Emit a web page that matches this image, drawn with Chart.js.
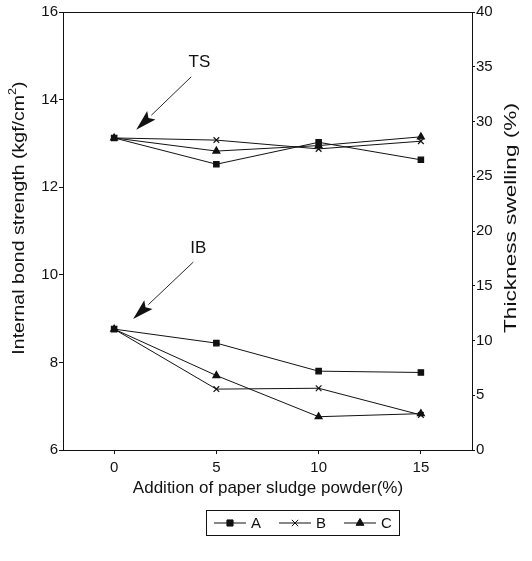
<!DOCTYPE html>
<html>
<head>
<meta charset="utf-8">
<script src="https://cdn.jsdelivr.net/npm/chart.js@4/dist/chart.umd.min.js"></script>
<style>
  body{margin:0;background:#fff;}
  #wrap{width:532px;height:561px;}
</style>
</head>
<body>
<div id="wrap"><canvas id="chart" width="532" height="561"></canvas></div>
<script>
// paper sludge powder addition (%)
const additions = [0, 5, 10, 15];
// internal bond strength, left axis (kgf/cm2)
const ibA = [8.76, 8.44, 7.80, 7.77];
const ibB = [8.76, 7.39, 7.41, 6.80];
const ibC = [8.76, 7.70, 6.76, 6.83];
// thickness swelling, right axis (%)
const tsA = [28.5, 26.1, 28.1, 26.5];
const tsB = [28.5, 28.3, 27.5, 28.2];
const tsC = [28.5, 27.3, 27.8, 28.6];
const seriesNames = ['A', 'B', 'C'];
const xTicks = [0, 5, 10, 15];

const FONT = '"Liberation Sans", Arial, sans-serif';
const INK = '#111';

const styles = [
  {pointStyle:'rect', radius:3.8},
  {pointStyle:'crossRot', radius:4},
  {pointStyle:'triangle', radius:4}
];

function pts(vals){ return additions.map((x,i)=>({x:x, y:vals[i]})); }
function mk(label, vals, axis, s){
  return {
    label: label, data: pts(vals), yAxisID: axis,
    borderColor: INK, backgroundColor: INK, borderWidth: 1,
    pointStyle: styles[s].pointStyle, pointRadius: styles[s].radius,
    pointBorderWidth: 1.2, tension: 0
  };
}

const datasets = [
  mk('A', ibA, 'y', 0), mk('B', ibB, 'y', 1), mk('C', ibC, 'y', 2),
  mk('A', tsA, 'y2', 0), mk('B', tsB, 'y2', 1), mk('C', tsC, 'y2', 2)
];

// annotation arrows, in data units of x / left axis
const notes = [
  {text:'TS', label:[4.17,14.84], tail:[3.77,14.52], tip:[1.08,13.31]},
  {text:'IB', label:[4.12,10.61], tail:[3.87,10.29], tip:[0.93,8.99]}
];

// rotated title, stretched along its length like the scanned original
function vtext(ctx, parts, cx, cy, stretch){
  ctx.save();
  ctx.translate(cx, cy); ctx.rotate(-Math.PI/2); ctx.scale(stretch, 1);
  let total = 0;
  parts.forEach(p => { ctx.font = p.size + 'px ' + FONT; p.w = ctx.measureText(p.t).width; total += p.w; });
  let x = -total/2;
  ctx.textAlign = 'left';
  parts.forEach(p => { ctx.font = p.size + 'px ' + FONT; ctx.fillText(p.t, x, p.dy || 0); x += p.w; });
  ctx.restore();
}

const decor = {
  id: 'decor',
  afterDraw(chart){
    const ctx = chart.ctx, a = chart.chartArea;
    const sx = chart.scales.x, sy = chart.scales.y;
    ctx.save();
    // top frame line
    ctx.strokeStyle = INK; ctx.lineWidth = 1;
    ctx.beginPath(); ctx.moveTo(a.left, a.top + 0.5); ctx.lineTo(a.right, a.top + 0.5); ctx.stroke();

    // axis titles
    ctx.fillStyle = INK;
    ctx.font = '17px ' + FONT;
    ctx.textAlign = 'center'; ctx.textBaseline = 'middle';
    ctx.fillText('Addition of paper sludge powder(%)', 268, 488);

    vtext(ctx, [{t:'Internal bond strength (kgf/cm', size:17}, {t:'2', size:11, dy:-6}, {t:')', size:17}], 19, 218, 1.15);
    vtext(ctx, [{t:'Thickness swelling (%)', size:17}], 511, 218, 1.33);

    // arrows with labels
    notes.forEach(n => {
      const lx = sx.getPixelForValue(n.label[0]), ly = sy.getPixelForValue(n.label[1]);
      const x0 = sx.getPixelForValue(n.tail[0]), y0 = sy.getPixelForValue(n.tail[1]);
      const x1 = sx.getPixelForValue(n.tip[0]), y1 = sy.getPixelForValue(n.tip[1]);
      ctx.font = '17px ' + FONT; ctx.textAlign = 'center';
      ctx.fillText(n.text, lx, ly);
      const ang = Math.atan2(y1 - y0, x1 - x0);
      const hl = 21, hw = 6;
      const bx = x1 - hl*Math.cos(ang), by = y1 - hl*Math.sin(ang);
      ctx.beginPath(); ctx.moveTo(x0, y0); ctx.lineTo(bx, by); ctx.lineWidth = 0.9; ctx.stroke();
      ctx.beginPath();
      ctx.moveTo(x1, y1);
      ctx.lineTo(bx + hw*Math.sin(ang), by - hw*Math.cos(ang));
      ctx.lineTo(bx + 4*Math.cos(ang), by + 4*Math.sin(ang));
      ctx.lineTo(bx - hw*Math.sin(ang), by + hw*Math.cos(ang));
      ctx.closePath(); ctx.fill();
    });

    // legend box
    const L = {x:206, y:510, w:193, h:25};
    ctx.lineWidth = 1;
    ctx.strokeRect(L.x + 0.5, L.y + 0.5, L.w, L.h);
    const cy = L.y + L.h/2 + 0.5;
    let px = L.x + 8;
    ctx.font = '15px ' + FONT; ctx.textAlign = 'left';
    seriesNames.forEach((name, i) => {
      ctx.beginPath(); ctx.moveTo(px, cy); ctx.lineTo(px + 32, cy); ctx.stroke();
      Chart.helpers.drawPoint(ctx, {pointStyle: styles[i].pointStyle, radius: styles[i].radius + 0.5, borderWidth: 1.2}, px + 16, cy);
      ctx.fill();
      ctx.fillText(name, px + 37, cy + 1);
      px += 37 + 28;
    });
    ctx.restore();
  }
};

new Chart(document.getElementById('chart'), {
  type: 'line',
  data: { datasets: datasets },
  options: {
    responsive: false,
    animation: false,
    layout: { padding: { top: 12, bottom: 81, left: 0, right: 0 } },
    plugins: { legend: { display: false }, tooltip: { enabled: false } },
    scales: {
      x: {
        type: 'linear', min: -2.5, max: 17.5,
        afterBuildTicks: s => { s.ticks = xTicks.map(v => ({value: v})); },
        afterFit: s => { s.height = 30; },
        grid: { drawOnChartArea: false, drawTicks: true, tickLength: 4, color: INK },
        border: { color: INK, width: 1 },
        ticks: { color: INK, font: { family: FONT, size: 15 }, padding: 5, maxRotation: 0 }
      },
      y: {
        position: 'left', min: 6, max: 16,
        afterFit: s => { s.width = 63; },
        grid: { drawOnChartArea: false, drawTicks: true, tickLength: 4, color: INK },
        border: { color: INK, width: 1 },
        ticks: { stepSize: 2, color: INK, font: { family: FONT, size: 15 }, padding: 1 }
      },
      y2: {
        position: 'right', min: 0, max: 40,
        afterFit: s => { s.width = 60; },
        grid: { drawOnChartArea: false, drawTicks: true, tickLength: 3, color: INK },
        border: { color: INK, width: 1 },
        ticks: { stepSize: 5, color: INK, font: { family: FONT, size: 15 }, padding: 1 }
      }
    }
  },
  plugins: [decor]
});
</script>
</body>
</html>
